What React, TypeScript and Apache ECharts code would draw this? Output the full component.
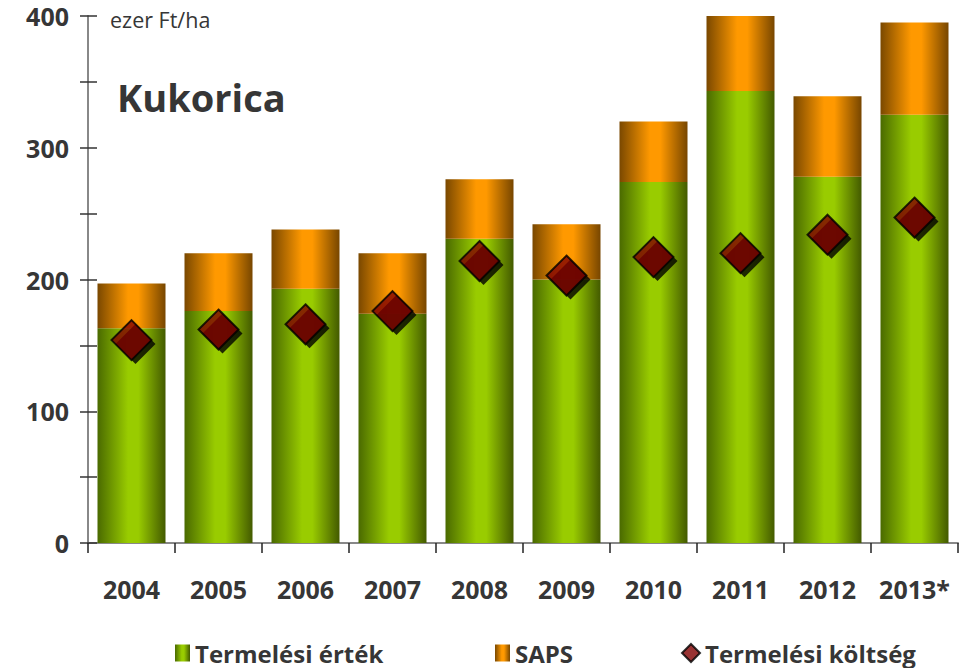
import React, { useEffect, useRef } from "react";
import * as echarts from "echarts";

const years = ["2004", "2005", "2006", "2007", "2008", "2009", "2010", "2011", "2012", "2013*"];
const termelesiErtek = [163, 176, 193, 174, 231, 200, 274, 343, 278, 325];
const saps = [34, 44, 45, 46, 45, 42, 46, 57, 61, 70];
const termelesiKoltseg = [154, 162, 166, 176, 214, 203, 217, 220, 234, 247];

const FONT = "'Open Sans', 'Noto Sans', sans-serif";
const TXT = "#363636";

const hGrad = (edgeL: string, mid: string, edgeR: string) =>
  new echarts.graphic.LinearGradient(0, 0, 1, 0, [
    { offset: 0, color: edgeL },
    { offset: 0.45, color: mid },
    { offset: 0.6, color: mid },
    { offset: 1, color: edgeR },
  ]);

export default function App() {
  const ref = useRef<HTMLDivElement>(null);
  useEffect(() => {
    if (!ref.current) return;
    const chart = echarts.init(ref.current, undefined, { renderer: "svg" });
    const green = hGrad("#4a6a00", "#99cc00", "#435a00");
    const orange = hGrad("#7a4800", "#ff9900", "#774600");
    const legendText = { fontFamily: FONT, fontWeight: "bold" as const, fontSize: 24, color: TXT };
    chart.setOption({
      animation: false,
      grid: { left: 88, right: 4, top: 16, bottom: 125, containLabel: false },
      legend: [
        {
          data: [{ name: "Termelési érték", icon: "rect" }],
          left: 170, top: 636, itemWidth: 15, itemHeight: 17, itemGap: 8,
          textStyle: legendText,
        },
        {
          data: [{ name: "SAPS", icon: "rect" }],
          left: 490, top: 636, itemWidth: 15, itemHeight: 17,
          textStyle: legendText,
        },
        {
          data: [{ name: "Termelési költség", icon: "diamond" }],
          left: 676, top: 636, itemWidth: 18, itemHeight: 18,
          textStyle: legendText,
        },
      ],
      xAxis: {
        type: "category",
        data: years,
        axisLine: { lineStyle: { color: "#888", width: 2 } },
        axisTick: { show: true, length: 10, lineStyle: { color: "#222", width: 1.5 } },
        axisLabel: {
          interval: 0,
          margin: 33, fontFamily: FONT, fontWeight: "bold", fontSize: 25, color: TXT,
        },
      },
      yAxis: [
        {
          type: "value", min: 0, max: 400, interval: 50,
          splitLine: { show: false },
          axisLine: { show: true, lineStyle: { color: "#888", width: 2 } },
          axisTick: { show: true, length: 8, lineStyle: { color: "#333", width: 1.5 } },
          axisLabel: {
            margin: 19, fontFamily: FONT, fontWeight: "bold", fontSize: 25, color: TXT,
            formatter: (v: number) => (v % 100 === 0 ? String(v) : ""),
          },
        },
        {
          type: "value", min: 0, max: 400, interval: 50, position: "left",
          splitLine: { show: false },
          axisLine: { show: false },
          axisTick: { show: true, inside: true, length: 9, lineStyle: { color: "#333", width: 1.5 } },
          axisLabel: { show: false },
        },
      ],
      series: [
        {
          name: "Termelési érték", type: "bar", stack: "total", barWidth: 68,
          data: termelesiErtek, itemStyle: { color: green },
        },
        {
          name: "SAPS", type: "bar", stack: "total", barWidth: 68,
          data: saps, itemStyle: { color: orange },
        },
        {
          name: "shadow", type: "scatter", symbol: "diamond", symbolSize: 40,
          symbolOffset: [4, 4], data: termelesiKoltseg, z: 3,
          itemStyle: { color: "#000" }, silent: true,
        },
        {
          name: "Termelési költség", type: "scatter", symbol: "diamond", symbolSize: 40,
          data: termelesiKoltseg, z: 4,
          itemStyle: { color: "#800000", borderColor: "#000", borderWidth: 2 },
        },
      ],
      graphic: [
        {
          type: "text", left: 110, top: 8,
          style: { text: "ezer Ft/ha", fontFamily: FONT, fontSize: 21.5, fill: TXT },
        },
        {
          type: "text", left: 117, top: 78,
          style: { text: "Kukorica", fontFamily: FONT, fontWeight: "bold", fontSize: 38, fill: TXT },
        },
      ],
    });
    return () => chart.dispose();
  }, []);
  return <div ref={ref} style={{ width: 962, height: 668, position: "absolute", left: 0, top: 0 }} />;
}
